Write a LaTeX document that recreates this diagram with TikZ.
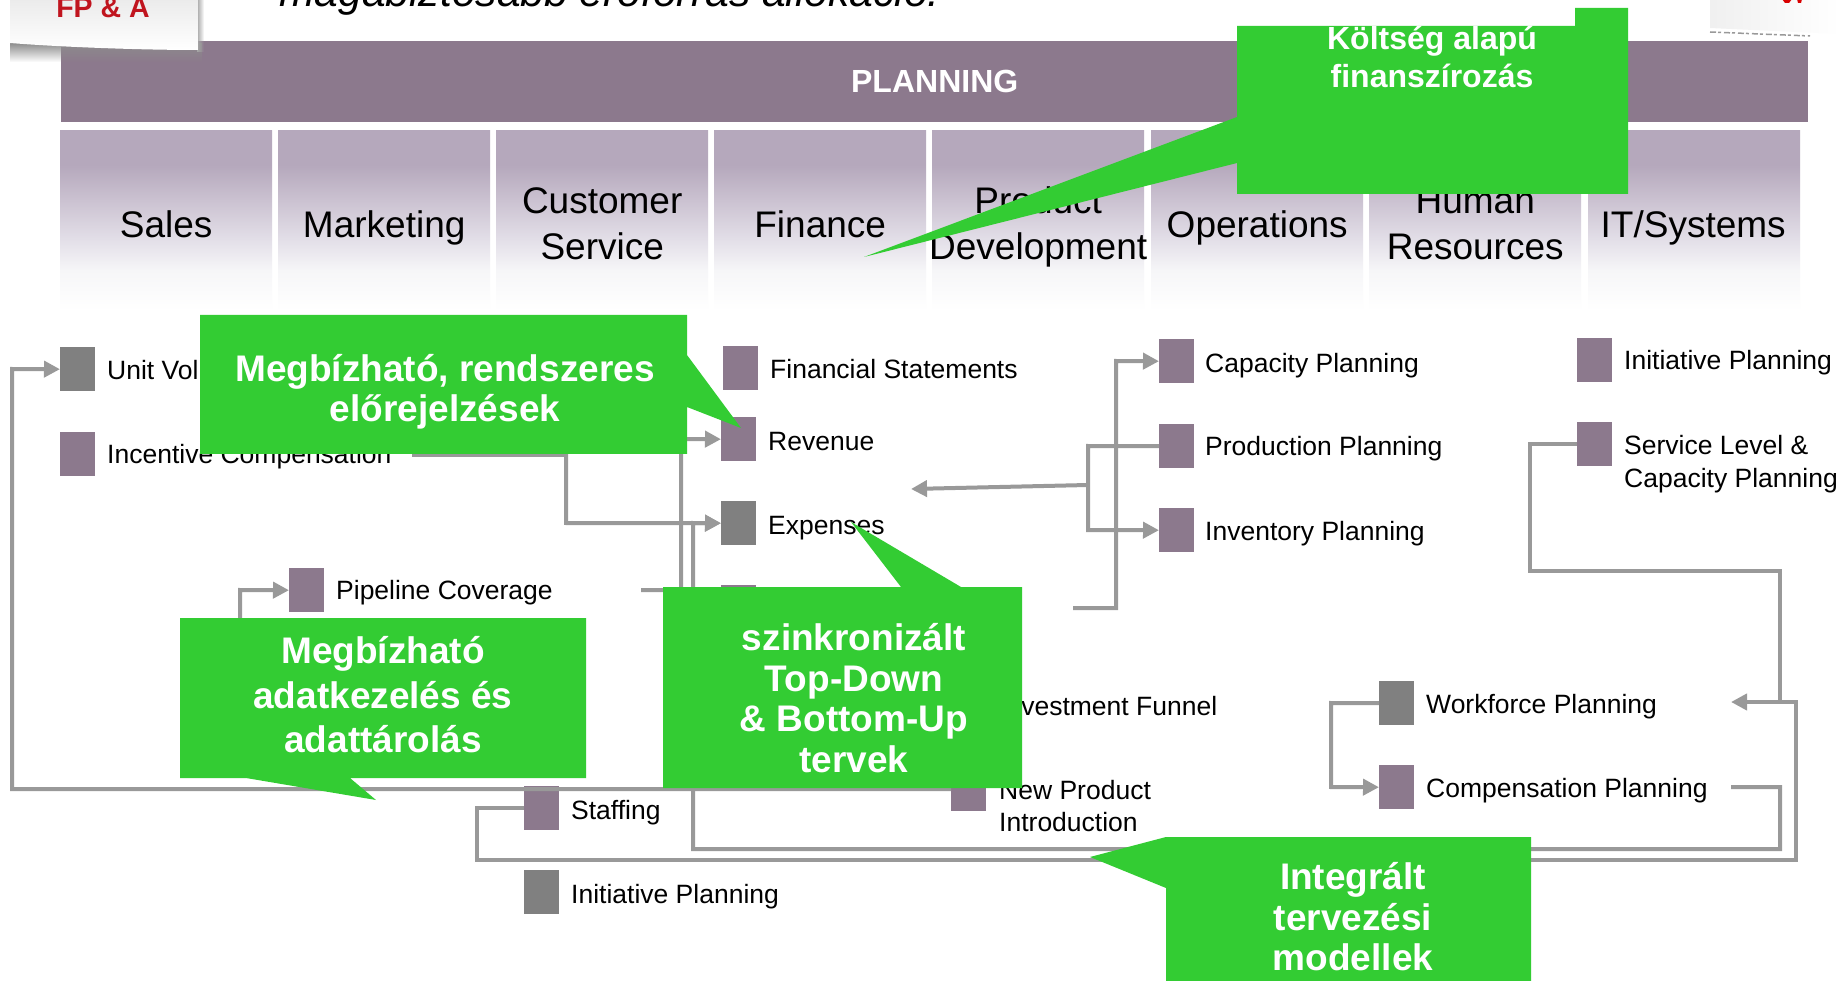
\documentclass[tikz,border=0pt]{standalone}
\usepackage{fontspec}
\setmainfont{Liberation Sans}
\usetikzlibrary{arrows.meta,shadings,fadings}
\definecolor{barcol}{HTML}{8C798D}
\definecolor{colcol}{HTML}{B5A8BC}
\definecolor{colb}{HTML}{CBC2D1}
\definecolor{colc}{HTML}{E3DFE8}
\definecolor{cold}{HTML}{F6F6F8}
\definecolor{boxgreen}{HTML}{33CC33}
\definecolor{sqpurple}{HTML}{8C798D}
\definecolor{sqgray}{HTML}{808080}
\definecolor{linegray}{HTML}{999999}
\definecolor{logored}{HTML}{C0141E}
\pgfdeclareverticalshading{colshade}{100bp}{
  color(0bp)=(white); color(25bp)=(white); color(36bp)=(cold); color(44.5bp)=(colc);
  color(55.5bp)=(colb); color(65.3bp)=(colcol); color(100bp)=(colcol)}
\tikzset{
  colbox/.style={minimum width=212pt,minimum height=180pt,inner sep=0pt,anchor=north west,shading=colshade,draw=none},
  coltext/.style={inner sep=0pt,align=center,text=black,font=\fontsize{37}{46}\selectfont,
    execute at begin node={\strut},execute at end node={\strut}},
  sqp/.style={fill=sqpurple,minimum width=35pt,minimum height=44pt,inner sep=0pt,anchor=north west,draw=none},
  sqg/.style={sqp,fill=sqgray},
  lbl/.style={anchor=base west,inner sep=0pt,text=black,align=left,font=\fontsize{26.5}{32}\selectfont},
  conn/.style={draw=linegray,line width=4pt,line join=miter},
  arr/.style={conn,-{Triangle[length=16pt,width=16pt]}},
  callout/.style={fill=boxgreen,draw=none},
  gtext/.style={text=white,inner sep=0pt,align=center,font=\fontsize{37}{40.5}\bfseries\selectfont},
}
\begin{document}
\begin{tikzpicture}[x=1pt,y=-1pt]
\useasboundingbox (0,0) rectangle (1840,981);
\clip (0,0) rectangle (1840,981);
\fill[white] (0,0) rectangle (1840,981);
% title
\node[anchor=base west,inner sep=0pt,font=\fontsize{42.6}{50}\itshape\selectfont] (title) at (279,7) {magabiztosabb erőforrás allokáció.};
% planning bar
\node[fill=barcol,minimum width=1747pt,minimum height=81pt,inner sep=0pt,anchor=north west,text=white,font=\fontsize{32}{38}\bfseries\selectfont] (plan) at (61,41) {PLANNING};
% left logo
\fill[black!45,path fading=south] (10,43) rectangle (202,62);
\fill[black!35,path fading=east] (197,-2) rectangle (204,52);
\shade[top color=white!92!black,bottom color=white] (10,-2) -- (198,-2) -- (198,50) .. controls (140,50) and (60,47) .. (10,43) -- cycle;
\node[anchor=base,inner sep=0pt,text=logored,font=\fontsize{28.5}{32}\bfseries\selectfont] (fpa) at (103,18) {FP \& A};
% right logo
\shade[left color=white!94!black,right color=white] (1710,-2) -- (1840,-2) -- (1840,34) -- (1710,28) -- cycle;
\draw[black!40,line width=1.5pt,dash pattern=on 6pt off 2pt on 3pt off 3pt] (1710,32) -- (1810,36);
\fill[red!85!black] (1782,-1) -- (1792,-1) -- (1789,3) -- (1785,3) -- cycle;
\fill[red!85!black] (1797,-1) -- (1802,-1) -- (1801,3) -- (1798,3) -- cycle;
% columns
\node[colbox] (c1) at (60,130) {};
\node[colbox] (c2) at (278,130) {};
\node[colbox] (c3) at (496,130) {};
\node[colbox] (c4) at (714,130) {};
\node[colbox] (c5) at (932,130) {};
\node[colbox] (c6) at (1151,130) {};
\node[colbox] (c7) at (1369,130) {};
\node[colbox] (c8) at (1588,130) {};
\node[coltext] (t1) at ([yshift=-8.5pt]c1.center) {Sales};
\node[coltext] (t2) at ([yshift=-8.5pt]c2.center) {Marketing};
\node[coltext] (t3) at ([yshift=-10pt]c3.center) {Customer\\Service};
\node[coltext] (t4) at ([yshift=-8.5pt]c4.center) {Finance};
\node[coltext] (t5) at ([yshift=-10pt]c5.center) {Product\\Development};
\node[coltext] (t6) at ([yshift=-8.5pt]c6.center) {Operations};
\node[coltext] (t7) at ([yshift=-10pt]c7.center) {Human\\Resources};
\node[coltext] (t8) at ([xshift=-1pt,yshift=-8.5pt]c8.center) {IT/Systems};
% squares
\node[sqg] (unit) at (60,347) {};
\node[sqp] (incent) at (60,432) {};
\node[sqp] (pipe) at (289,568) {};
\node[sqp] (fin) at (723,346) {};
\node[sqp] (rev) at (721,417) {};
\node[sqg] (exp) at (721,501) {};
\node[sqp] (fourth) at (721,585) {};
\node[sqp] (invf) at (951,684) {};
\node[sqp] (newp) at (951,767) {};
\node[sqp] (staff) at (524,786) {};
\node[sqg] (initl) at (524,870) {};
\node[sqp] (cap) at (1159,339) {};
\node[sqp] (prod) at (1159,424) {};
\node[sqp] (inv) at (1159,508) {};
\node[sqp] (initr) at (1577,338) {};
\node[sqp] (serv) at (1577,422) {};
\node[sqg] (work) at (1379,681) {};
\node[sqp] (comp) at (1379,765) {};
% labels
\node[lbl] (lunit) at (107,380) {Unit Volume};
\node[lbl] (lincent) at (107,464) {Incentive Compensation};
\node[lbl] (lpipe) at (336,599) {Pipeline Coverage};
\node[lbl] (lfin) at (770,379) {Financial Statements};
\node[lbl] (lrev) at (768,450) {Revenue};
\node[lbl] (lexp) at (768,534) {Expenses};
\node[lbl] (linvf) at (999,715) {Investment Funnel};
\node[lbl] (lnewp) at (999,799) {New Product};
\node[lbl] (lintro) at (999,831) {Introduction};
\node[lbl] (lstaff) at (571,819) {Staffing};
\node[lbl] (linitl) at (571,903) {Initiative Planning};
\node[lbl] (lcap) at (1205,373) {Capacity Planning};
\node[lbl] (lprod) at (1205,456) {Production Planning};
\node[lbl] (linv) at (1205,540) {Inventory Planning};
\node[lbl] (linitr) at (1624,370) {Initiative Planning};
\node[lbl] (lserv) at (1624,455) {Service Level \&};
\node[lbl] (lserv2) at (1624,487) {Capacity Planning};
\node[lbl] (lwork) at (1426,713) {Workforce Planning};
\node[lbl] (lcomp) at (1426,797) {Compensation Planning};
% free connector ends
\coordinate (p1) at (412,455);
\coordinate (p2) at (641,590);
\coordinate (p3) at (1073,608);
\coordinate (p4) at (911,489);
\coordinate (p5) at (1731,702);
\coordinate (p6) at (1731,787);
\coordinate (p7) at (240,640);
% connectors
\draw[arr] (newp.west |- 0,789) -- (12,789) -- (12,369) -- (unit.west);
\draw[arr] (p7) -- (240,590) -- (pipe.west);
\draw[arr] (p1) -- (566,455) -- (566,523) -- (exp.west);
\draw[arr] (p2) -- (681,590) -- (681,439) -- (rev.west);
\draw[arr] (p6) -- (1780,787) -- (1780,849) -- (693,849) -- (693,523) -- (exp.west);
\draw[arr] (p3) -- (1116,608) -- (1116,361) -- (cap.west);
\draw[conn] (prod.west) -- (1088,446) -- (1088,530);
\draw[arr] (1086,530) -- (inv.west);
\draw[arr] (1088,485) -- (p4);
\draw[arr] (staff.west |- 0,808) -- (476.5,808) -- (476.5,860) -- (1796,860) -- (1796,702) -- (p5);
\draw[conn] (serv.west |- 0,444) -- (1530,444) -- (1530,571) -- (1780,571) -- (1780,702);
\draw[arr] (work.west) -- (1331,703) -- (1331,787) -- (comp.west);
% callouts
\fill[callout] (1237,26) -- (1575,26) -- (1575,8) -- (1628,8) -- (1628,194) -- (1237,194) -- (1237,163) -- (864,257) -- (1237,117) -- cycle;
\node[gtext,font=\fontsize{32}{38}\bfseries\selectfont] (ta) at (1432,57) {Költség alapú\\finanszírozás};
\fill[callout] (200,315) -- (687,315) -- (687,355) -- (741,428) -- (687,407) -- (687,454) -- (200,454) -- cycle;
\node[gtext] (tb) at (445,392) {Megbízható, rendszeres\\előrejelzések};
\fill[callout] (180,618) -- (586,618) -- (586,778) -- (350,778) -- (376,800) -- (246,778) -- (180,778) -- cycle;
\node[gtext,font=\fontsize{37}{44.5}\bfseries\selectfont] (tc) at (383,695) {Megbízható\\adatkezelés és\\adattárolás};
\fill[callout] (663,587) -- (901,587) -- (851,522) -- (961,587) -- (1022,587) -- (1022,788) -- (663,788) -- cycle;
\node[gtext] (td) at (854,698) {szinkronizált\\Top-Down\\\& Bottom-Up\\tervek};
\fill[callout] (1166,837) -- (1531,837) -- (1531,985) -- (1166,985) -- (1166,888) -- (1090,857) -- cycle;
\node[gtext] (te) at (1353,917) {Integrált\\tervezési\\modellek};
\end{tikzpicture}
\end{document}
